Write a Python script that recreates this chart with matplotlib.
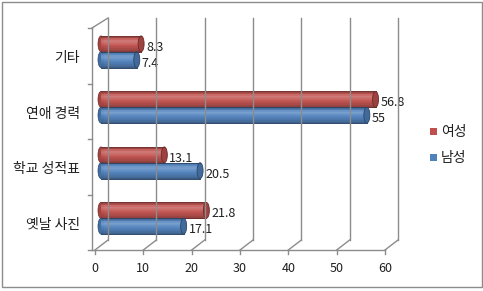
import matplotlib
matplotlib.use("Agg")
import matplotlib.pyplot as plt
import numpy as np
from matplotlib.transforms import offset_copy, IdentityTransform
from matplotlib.patches import Ellipse, Rectangle
from matplotlib.lines import Line2D

plt.rcParams['font.family'] = ['Noto Sans CJK KR', 'DejaVu Sans']

# ---- data ----
categories = ['옛날 사진', '학교 성적표', '연애 경력', '기타']   # bottom -> top
series_names = ['여성', '남성']
female = [21.8, 13.1, 56.8, 8.3]
male = [17.1, 20.5, 55, 7.4]
x_ticks = [0, 10, 20, 30, 40, 50, 60]

colors = {'여성': '#C0504D', '남성': '#4F81BD'}
values = {'여성': female, '남성': male}

W, H = 483, 291
fig = plt.figure(figsize=(W / 100, H / 100), dpi=100)
fig.patch.set_facecolor('white')

# outer border
fig.add_artist(Rectangle((1.5 / W, 1 - 286.5 / H), 480 / W, 285 / H,
                         transform=fig.transFigure, fill=False,
                         edgecolor='#8c8c8c', lw=1))

# front plane axes
x0p, x1p, ybot, ytop = 95, 385, 250, 28
ax = fig.add_axes([x0p / W, (H - ybot) / H, (x1p - x0p) / W, (ybot - ytop) / H])
ax.set_xlim(0, 60)
ax.set_ylim(-0.5, len(categories) - 0.5)
ax.axis('off')

grid_c = '#8c8c8c'
txt_c = '#202020'
dx_back, dy_back = 13, 10
tbar = offset_copy(ax.transData, fig=fig, x=6, y=4, units='dots')
ylo, yhi = -0.5, len(categories) - 0.5

def disp(pt, dx=0, dy=0):
    p = ax.transData.transform(pt)
    return p[0] + dx, p[1] + dy

def seg(p, q, **kw):
    fig.add_artist(Line2D([p[0], q[0]], [p[1], q[1]], transform=IdentityTransform(),
                          color=kw.get('color', grid_c), lw=kw.get('lw', 1)))

# back wall gridlines, floor diagonals, ticks
for v in x_ticks:
    seg(disp((v, ylo), dx_back, dy_back), disp((v, yhi), dx_back, dy_back))
    seg(disp((v, ylo)), disp((v, ylo), dx_back, dy_back))
    seg(disp((v, ylo)), disp((v, ylo), 0, -4))
# front floor line
seg(disp((0, ylo), -3, 0), disp((60, ylo)))
# left wall front edge and top diagonal
seg(disp((0, ylo), -3, 0), disp((0, yhi), -3, 0))
seg(disp((0, yhi), -3, 0), disp((0, yhi), dx_back, dy_back))
# category ticks
for b in np.arange(ylo, yhi + 0.01, 1.0):
    seg(disp((0, b), -3, 0), disp((0, b), -7, 0))

# x tick labels
for v in x_ticks:
    ax.annotate(str(v), xy=(v, ylo), xycoords='data', xytext=(0, -18),
                textcoords='offset pixels', ha='center', va='center',
                fontsize=9, color=txt_c, annotation_clip=False)

# category labels
for i, c in enumerate(categories):
    ax.annotate(c, xy=(0, i), xycoords='data', xytext=(-15, -2.5),
                textcoords='offset pixels', ha='right', va='center',
                fontsize=10, color=txt_c, annotation_clip=False)

def mix(c, other, a):
    c = np.array(matplotlib.colors.to_rgb(c))
    o = np.array(other)
    return tuple(c * (1 - a) + o * a)

def shade(base, t):
    # t: 0 bottom .. 1 top
    ts = [0.0, 0.12, 0.45, 0.72, 0.88, 1.0]
    fs = [-0.45, -0.22, 0.0, 0.22, 0.08, -0.3]
    f = np.interp(t, ts, fs)
    if f >= 0:
        return mix(base, (1, 1, 1), f)
    return mix(base, (0, 0, 0), -f)

h = 0.285
N = 24
px_per_unit = (x1p - x0p) / 60.0
cap_w = 6.0 / px_per_unit

for k, name in enumerate(series_names):
    base = colors[name]
    for i, v in enumerate(values[name]):
        yc = i + (h / 2 if k == 0 else -h / 2)
        y0 = yc - h / 2
        edge = mix(base, (0, 0, 0), 0.45)
        # left end
        ax.add_patch(Ellipse((0, yc), cap_w, h, transform=tbar,
                             facecolor=mix(base, (0, 0, 0), 0.15),
                             edgecolor=edge, lw=0.5, clip_on=False))
        for s in range(N):
            t = (s + 0.5) / N
            col = shade(base, t)
            ax.barh(y0 + (s + 0.5) * h / N, v, height=h / N, left=0,
                    color=col, edgecolor=col, lw=0.4, transform=tbar, clip_on=False)
        ax.plot([0, v], [y0 + h, y0 + h], color=edge, lw=0.6, transform=tbar, clip_on=False)
        ax.plot([0, v], [y0, y0], color=edge, lw=0.6, transform=tbar, clip_on=False)
        # right cap
        ax.add_patch(Ellipse((v, yc), cap_w, h, transform=tbar,
                             facecolor=mix(base, (0, 0, 0), 0.18),
                             edgecolor=edge, lw=0.6, clip_on=False))
        ax.annotate(f"{v:g}", xy=(v, yc), xycoords=tbar, xytext=(5, -3.5),
                    textcoords='offset pixels', ha='left', va='center',
                    fontsize=9, color=txt_c, annotation_clip=False)

# legend
for k, name in enumerate(series_names):
    yc = 131.5 + 25.5 * k
    fig.add_artist(Rectangle((430 / W, 1 - (yc + 3.5) / H), 7 / W, 7 / H,
                             transform=fig.transFigure, facecolor=colors[name],
                             edgecolor='none'))
    fig.text(441 / W, 1 - (yc + 1) / H, name, ha='left', va='center',
             fontsize=10, color=txt_c)

fig.savefig('out.png', dpi=100, facecolor='white')
